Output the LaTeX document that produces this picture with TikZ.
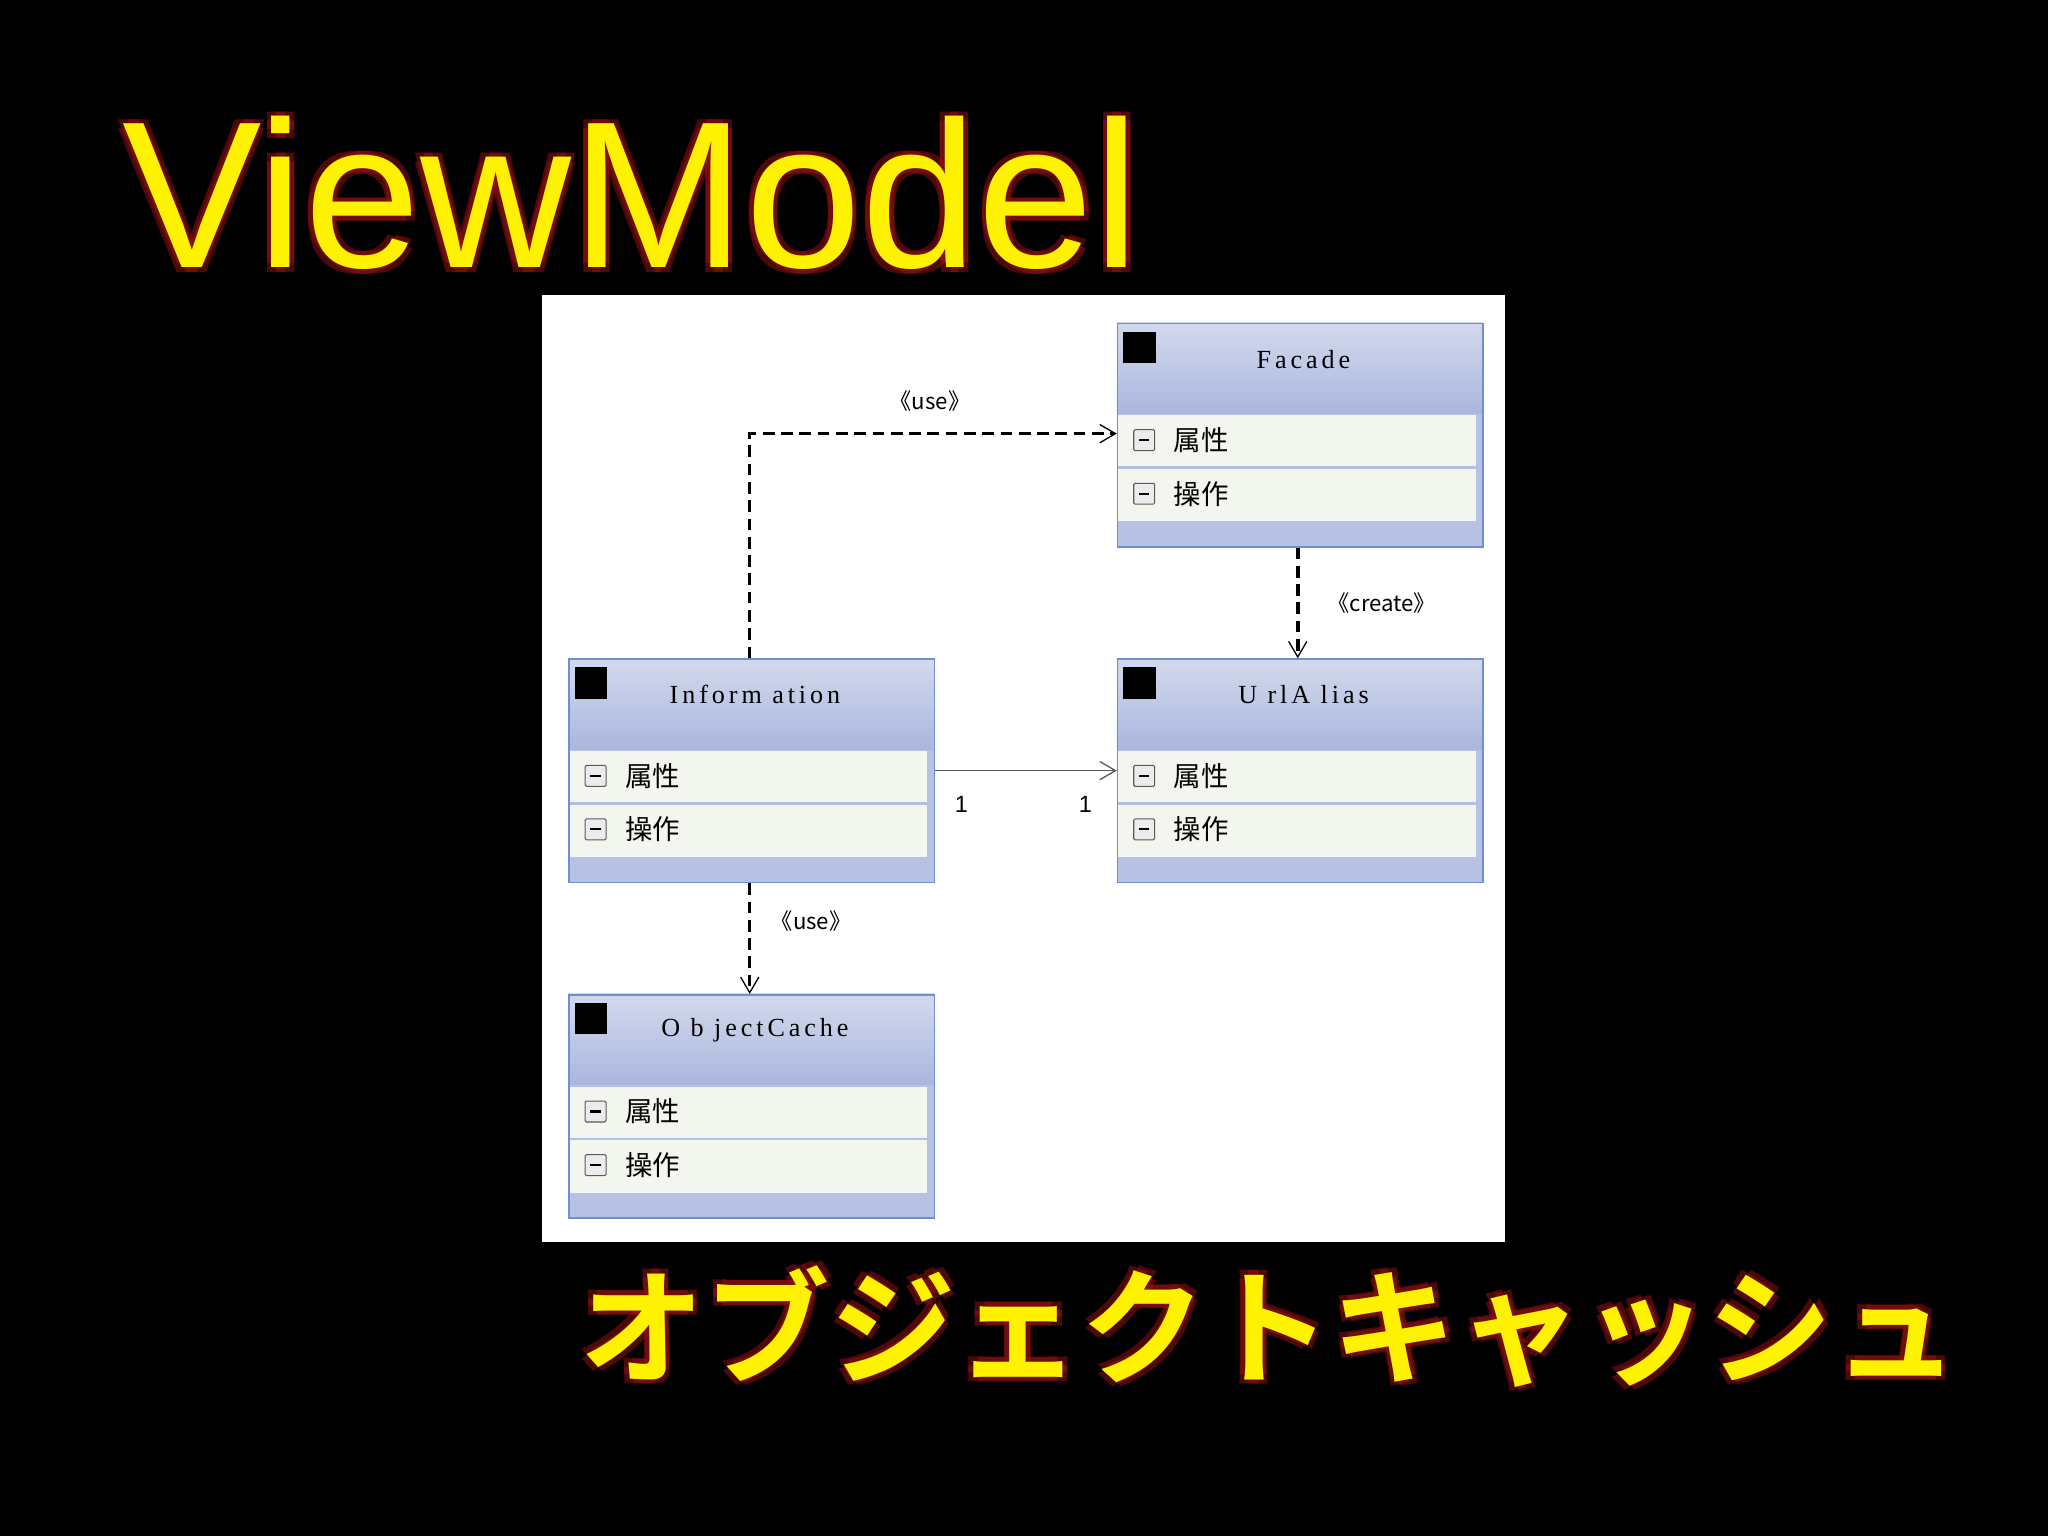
\documentclass[tikz,border=0pt]{standalone}
\usepackage{fontspec}
\setmainfont{Liberation Sans}
\newfontfamily\cjk{Noto Sans CJK JP}
\newfontfamily\cjkb{Noto Sans CJK JP Bold}
\newfontfamily\spaced[LetterSpace=15]{Liberation Serif}
\usetikzlibrary{arrows.meta,calc}
\definecolor{hdtop}{HTML}{D3D9EC}
\definecolor{hdbot}{HTML}{AAB6DE}
\definecolor{rowc}{HTML}{F3F6EE}
\definecolor{brd}{HTML}{6F8FCF}
\definecolor{glow}{HTML}{9A1010}
\tikzset{
  conn/.style={line width=2.6pt, dash pattern=on 9pt off 5pt},
  openarr/.style={-{Straight Barb[length=12pt,width=14pt,line width=1pt]}},
  stereo/.style={font=\cjk\fontsize{17}{17}\selectfont},
  mult/.style={font=\fontsize{18}{18}\selectfont},
}
\newcommand{\umlclass}[4]{%
  \begin{scope}[shift={(#2,#3)}]
    \shade[top color=hdtop,bottom color=hdbot] (0,0) rectangle (280,70);
    \fill[hdbot!85!white] (0,70) rectangle (280,171);
    \fill[rowc] (1,71) rectangle (275,110);
    \fill[rowc] (1,112) rectangle (275,152);
    \draw[brd!60,line width=0.8pt] (1,111) -- (275,111);
    \fill[black] (5,7) rectangle (30,31);
    \node[font=\spaced\fontsize{20}{20}\selectfont] at (143,28) {#4};
    \foreach \yy/\tx in {90/属性,131/操作}{
      \draw[gray!70!black,line width=0.8pt,fill=gray!15,rounded corners=1pt] (13,\yy-8) rectangle (29,\yy+8);
      \draw[black,line width=1.6pt] (17,\yy) -- (25,\yy);
      \node[anchor=west,font=\cjk\fontsize{21}{21}\selectfont] at (40,\yy) {\tx};
    }
  \end{scope}
  \node[draw=brd,line width=1.2pt,minimum width=280pt,minimum height=171pt,anchor=north west,inner sep=0pt] (#1) at (#2,#3) {};
}
\begin{document}
\begin{tikzpicture}[x=1pt,y=-1pt]
\fill[black] (0,0) rectangle (1568,1176);
\useasboundingbox (0,0) rectangle (1568,1176);
% Title with glow
\foreach \a in {45,135,225,315}{
  \node[anchor=base west,text=glow,opacity=0.5,font=\fontsize{160}{160}\selectfont] at ($(90,205)+(\a:5)$) {ViewModel};
  \node[anchor=base west,text=glow,opacity=0.5,font=\cjkb\fontsize{96}{96}\selectfont] at ($(440,1052)+(\a:5)$) {オブジェクトキャッシュ};
}
\node[anchor=base west,text=yellow,font=\fontsize{160}{160}\selectfont] (title) at (90,205) {ViewModel};
\node[anchor=base west,text=yellow,font=\cjkb\fontsize{96}{96}\selectfont] (sub) at (440,1052) {オブジェクトキャッシュ};
% panel
\fill[white] (415,226) rectangle (1152,951);
\umlclass{facade}{855}{247}{Facade}
\umlclass{info}{435}{504}{Inform ation}
\umlclass{url}{855}{504}{U rlA lias}
\umlclass{cache}{435}{761}{O b jectCache}
% connectors
\draw[conn,openarr] ($(info.north west)+(139,0)$) |- ($(facade.north west)+(0,85)$);
\node[stereo] at (712,307) {《use》};
\draw[conn,line width=3.4pt,openarr] ($(facade.south)+(-2,0)$) -- ($(url.north)+(-2,0)$);
\node[stereo] at (1058,462) {《create》};
\draw[gray!70!black,line width=1pt,openarr] ($(info.north east)+(0,86)$) -- ($(url.north west)+(0,86)$);
\node[mult] at (736,616) {1};
\node[mult] at (831,616) {1};
\draw[conn,openarr] ($(info.south west)+(139,0)$) -- ($(cache.north west)+(139,0)$);
\node[stereo] at (621,705) {《use》};
\end{tikzpicture}
\end{document}
